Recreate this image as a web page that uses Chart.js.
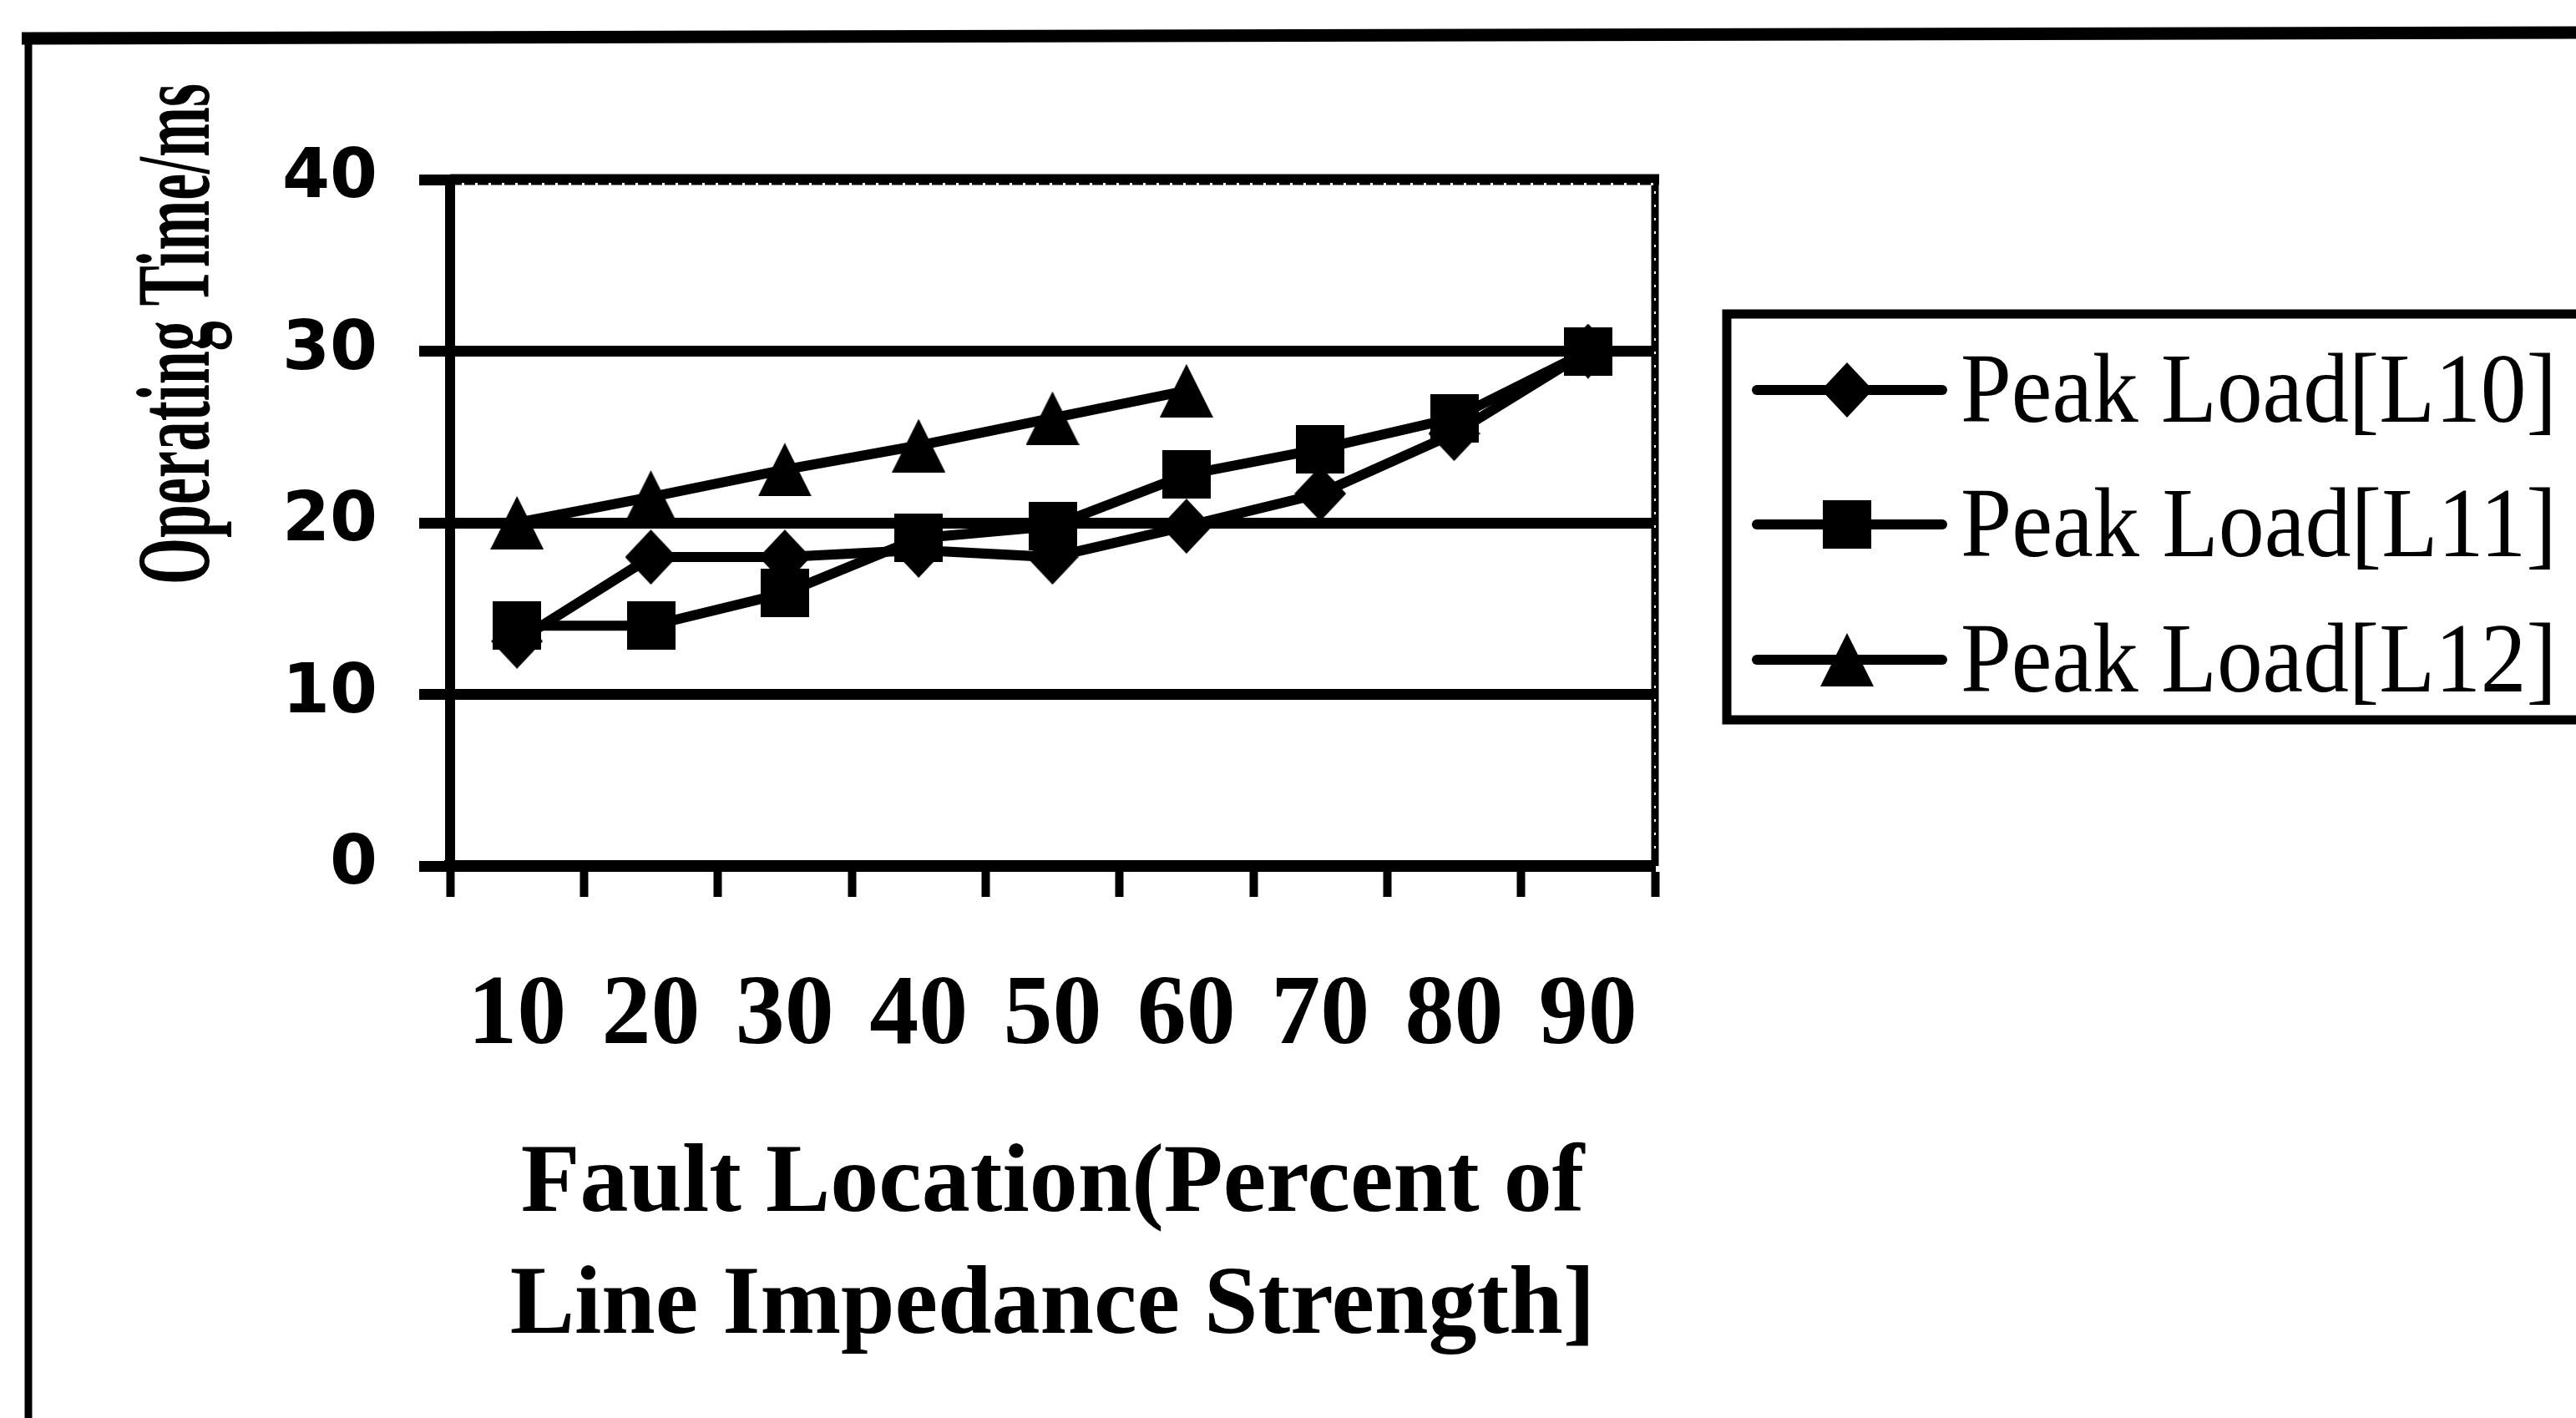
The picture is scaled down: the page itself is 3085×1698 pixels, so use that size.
<!DOCTYPE html>
<html>
<head>
<meta charset="utf-8">
<script src="https://cdn.jsdelivr.net/npm/chart.js@4.4.0/dist/chart.umd.min.js"></script>
<style>
  html, body { margin: 0; padding: 0; background: #fff; overflow: hidden; }
  #wrap { width: 3085px; height: 1698px; }
</style>
</head>
<body>
<div id="wrap"><canvas id="chart" width="3085" height="1698"></canvas></div>
<script>
// values
const categories = ['10', '20', '30', '40', '50', '60', '70', '80', '90'];
const seriesNames = ['Peak Load[L10]', 'Peak Load[L11]', 'Peak Load[L12]'];
const loadL10 = [13.1, 18, 18, 18.4, 18, 19.8, 21.7, 25.2, 30];
const loadL11 = [14, 14, 15.9, 19.1, 19.8, 22.8, 24.3, 26.1, 30];
const loadL12 = [20, 21.5, 23.1, 24.5, 26.1, 27.7];
const yTicks = [0, 10, 20, 30, 40];
const yTitle = 'Operating Time/ms';
const xTitle = ['Fault Location(Percent of', 'Line Impedance Strength]'];

// little canvases used as point styles (Excel-like markers)
function makeMarker(shape, w, h) {
  const c = document.createElement('canvas');
  c.width = w; c.height = h;
  const g = c.getContext('2d');
  g.fillStyle = '#000';
  g.beginPath();
  if (shape === 'diamond') {
    g.moveTo(w / 2, 0); g.lineTo(w, h / 2); g.lineTo(w / 2, h); g.lineTo(0, h / 2);
  } else if (shape === 'square') {
    g.rect(0, 0, w, h);
  } else {
    g.moveTo(w / 2, 0); g.lineTo(w, h); g.lineTo(0, h);
  }
  g.closePath();
  g.fill();
  return c;
}
const markers = [makeMarker('diamond', 62, 66), makeMarker('square', 58, 58), makeMarker('triangle', 64, 64)];

const serif = 'Liberation Serif, Times New Roman, serif';

// frame, plot border, rotated y title and the boxed legend
const decorations = {
  id: 'decorations',
  afterDraw(chart) {
    const { ctx, chartArea: a } = chart;
    ctx.save();
    ctx.strokeStyle = '#000';
    ctx.fillStyle = '#000';
    ctx.setLineDash([]);

    // outer frame (top + left edge)
    ctx.lineWidth = 15;
    ctx.beginPath(); ctx.moveTo(26, 46); ctx.lineTo(3090, 39); ctx.stroke();
    ctx.lineWidth = 9;
    ctx.beginPath(); ctx.moveTo(34, 42); ctx.lineTo(34, 1710); ctx.stroke();

    // top and right border of the plot (rough, near solid)
    ctx.lineWidth = 13;
    ctx.beginPath(); ctx.moveTo(a.left, a.top); ctx.lineTo(a.right + 5, a.top); ctx.stroke();
    ctx.lineWidth = 9;
    ctx.beginPath(); ctx.moveTo(a.right, a.top); ctx.lineTo(a.right, a.bottom); ctx.stroke();
    // small notches so the border reads as dotted
    ctx.fillStyle = '#fff';
    for (let x = a.left + 14; x < a.right - 4; x += 16) ctx.fillRect(x, a.top + 4, 3, 3);
    for (let y = a.top + 14; y < a.bottom - 10; y += 16) ctx.fillRect(a.right - 1, y, 2, 3);
    ctx.fillStyle = '#000';

    // y title, squeezed along its length like the original
    ctx.save();
    ctx.translate(250, 400);
    ctx.rotate(-Math.PI / 2);
    ctx.font = 'bold 124px ' + serif;
    const tw = ctx.measureText(yTitle).width;
    ctx.scale(600 / tw, 1);
    ctx.textAlign = 'center';
    ctx.textBaseline = 'alphabetic';
    ctx.fillText(yTitle, 0, 0);
    ctx.restore();

    // legend box
    ctx.lineWidth = 11;
    ctx.strokeRect(2068, 376, 1100, 486);
    const rows = [467, 628, 790];
    ctx.font = '118px ' + serif;
    ctx.textAlign = 'left';
    ctx.textBaseline = 'middle';
    seriesNames.forEach((name, i) => {
      const y = rows[i];
      ctx.lineWidth = 12;
      ctx.lineCap = 'round';
      ctx.beginPath(); ctx.moveTo(2104, y); ctx.lineTo(2326, y); ctx.stroke();
      const m = markers[i];
      ctx.drawImage(m, 2212 - m.width / 2, y - m.height / 2);
      ctx.save();
      ctx.translate(2348, y + 7);
      ctx.scale(714 / ctx.measureText(name).width, 1);
      ctx.fillText(name, 0, 0);
      ctx.restore();
    });
    ctx.restore();
  }
};

const lineStyle = (data, i, order) => ({
  label: seriesNames[i],
  data: data,
  borderColor: '#000',
  backgroundColor: '#000',
  borderWidth: 12,
  pointStyle: markers[i],
  pointRadius: 30,
  pointHoverRadius: 30,
  tension: 0,
  fill: false,
  order: order
});

new Chart(document.getElementById('chart'), {
  type: 'line',
  data: {
    labels: categories,
    datasets: [
      lineStyle(loadL10, 0, 3),
      lineStyle(loadL11, 1, 2),
      lineStyle(loadL12, 2, 1)
    ]
  },
  options: {
    responsive: false,
    animation: false,
    events: [],
    layout: { padding: { left: 0, top: 215, right: 1103, bottom: 0 } },
    plugins: {
      legend: { display: false },
      tooltip: { enabled: false }
    },
    scales: {
      x: {
        type: 'category',
        offset: true,
        afterFit(s) { s.height = 661; },
        grid: {
          offset: true,
          drawOnChartArea: false,
          drawTicks: true,
          tickLength: 37,
          tickWidth: 10,
          tickColor: '#000'
        },
        border: { color: '#000', width: 14 },
        ticks: {
          color: '#000',
          padding: 86,
          maxRotation: 0,
          autoSkip: false,
          font: { family: serif, weight: 'bold', size: 118, lineHeight: 1 }
        },
        title: {
          display: true,
          text: xTitle,
          color: '#000',
          padding: { top: 0, bottom: 59 },
          font: { family: serif, weight: 'bold', size: 116, lineHeight: 1.26 }
        }
      },
      y: {
        min: 0,
        max: 40,
        afterFit(s) { s.width = 539; },
        afterBuildTicks(s) { s.ticks = yTicks.map(v => ({ value: v })); },
        grid: {
          color: c => (c.tick && c.tick.value === 40 ? 'rgba(0,0,0,0)' : '#000'),
          lineWidth: 13,
          tickLength: 37,
          tickWidth: 13,
          tickColor: '#000'
        },
        border: { color: '#000', width: 12 },
        ticks: {
          color: '#000',
          padding: 50,
          font: { family: 'DejaVu Sans', weight: 'bold', size: 82 }
        }
      }
    }
  },
  plugins: [decorations]
});
</script>
</body>
</html>
